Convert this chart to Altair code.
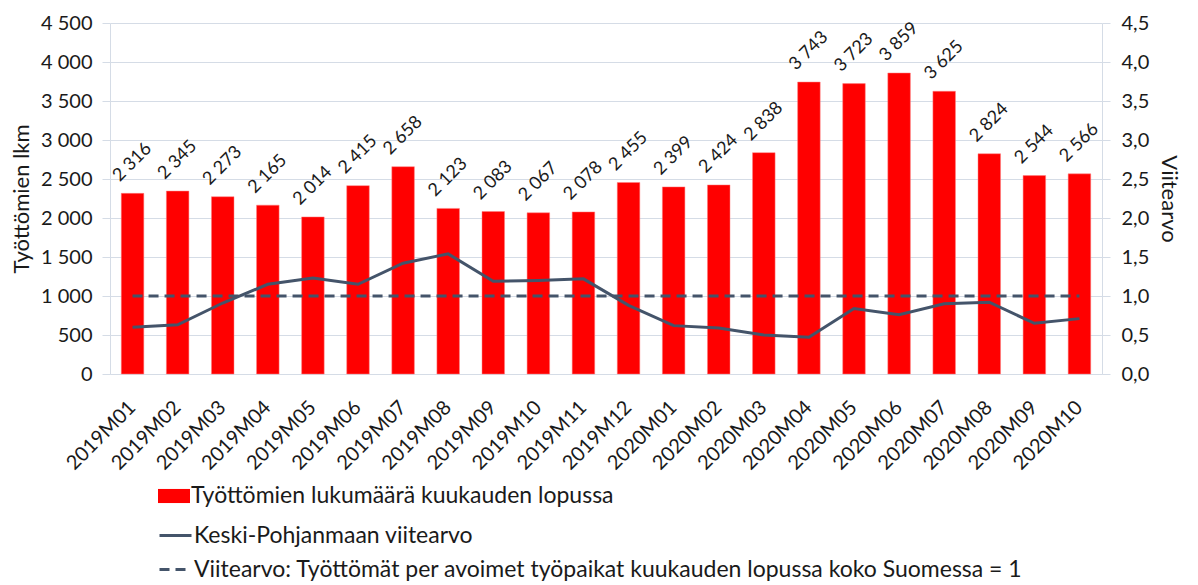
import altair as alt
import pandas as pd

months = ["2019M01", "2019M02", "2019M03", "2019M04", "2019M05", "2019M06",
          "2019M07", "2019M08", "2019M09", "2019M10", "2019M11", "2019M12",
          "2020M01", "2020M02", "2020M03", "2020M04", "2020M05", "2020M06",
          "2020M07", "2020M08", "2020M09", "2020M10"]
unemployed = [2316, 2345, 2273, 2165, 2014, 2415, 2658, 2123, 2083, 2067, 2078, 2455,
              2399, 2424, 2838, 3743, 3723, 3859, 3625, 2824, 2544, 2566]
viitearvo = [0.60, 0.63, 0.91, 1.15, 1.23, 1.15, 1.42, 1.54, 1.19, 1.20, 1.22, 0.88,
             0.62, 0.59, 0.50, 0.47, 0.84, 0.76, 0.90, 0.92, 0.65, 0.71]
reference_value = 1.0
left_ticks = [0, 500, 1000, 1500, 2000, 2500, 3000, 3500, 4000, 4500]
right_ticks = [0, 0.5, 1, 1.5, 2, 2.5, 3, 3.5, 4, 4.5]

lab_bar = "Työttömien lukumäärä kuukauden lopussa"
lab_line = "Keski-Pohjanmaan viitearvo"
lab_ref = "Viitearvo: Työttömät per avoimet työpaikat kuukauden lopussa koko Suomessa = 1"

df = pd.DataFrame({
    "month": months,
    "count": unemployed,
    "viite": viitearvo,
    "ref": [reference_value] * len(months),
    "s1": lab_bar,
    "s2": lab_line,
    "s3": lab_ref,
})

FONT = "Lato"
TXT = "#1a1a1a"
GRID = "#d5dce6"
RED = "#ff0000"
NAVY = "#44546a"

x_enc = alt.X("month:N", sort=months, title=None,
              scale=alt.Scale(paddingInner=0.5, paddingOuter=0.25),
              axis=alt.Axis(labelAngle=315, labelAlign="right", labelBaseline="middle",
                            labelPadding=30, ticks=False, domainColor=GRID,
                            labelFontSize=20, labelColor=TXT, labelFont=FONT,
                            labelOverlap=False))

left_axis = alt.Axis(values=left_ticks, title="Työttömien lkm",
                     labelExpr="replace(format(datum.value, ','), ',', ' ')",
                     grid=True, gridColor=GRID, tickColor=GRID, tickSize=8,
                     domainColor=GRID, labelPadding=10, titlePadding=7,
                     labelFontSize=20, titleFontSize=22, labelColor=TXT,
                     titleColor=TXT, titleFontWeight="normal",
                     labelFont=FONT, titleFont=FONT, labelOverlap=False)

right_axis = alt.Axis(orient="right", values=right_ticks,
                      title="Viitearvo",
                      labelExpr="replace(format(datum.value, '.1f'), '.', ',')",
                      grid=False, tickColor=GRID, tickSize=8, domainColor=GRID,
                      labelPadding=11, titlePadding=8, labelFontSize=20,
                      titleFontSize=22, labelColor=TXT, titleColor=TXT,
                      titleFontWeight="normal", labelFont=FONT, titleFont=FONT,
                      labelOverlap=False)

left_scale = alt.Scale(domain=[0, 4500], nice=False)
right_scale = alt.Scale(domain=[0, 4.5], nice=False)

rect_path = "M-1,-0.44L1,-0.44L1,0.44L-1,0.44Z"

def legend(y, **kw):
    return alt.Legend(orient="none", legendX=48, legendY=y, title=None,
                      symbolSize=1024, labelFontSize=23, labelColor=TXT,
                      labelFont=FONT, padding=0, labelOffset=1, labelLimit=0, **kw)

bars = alt.Chart(df).mark_bar(stroke="#ff8080", strokeWidth=0.5).encode(
    x=x_enc,
    y=alt.Y("count:Q", scale=left_scale, axis=left_axis),
    color=alt.Color("s1:N", scale=alt.Scale(domain=[lab_bar], range=[RED]),
                    legend=legend(457, symbolType=rect_path, symbolStrokeWidth=0)),
)

labels = alt.Chart(df).transform_calculate(
    lbl="replace(format(datum.count, ','), ',', ' ')"
).mark_text(angle=315, align="center", baseline="middle", yOffset=-31,
            fontSize=18, font=FONT, color=TXT).encode(
    x=x_enc,
    y=alt.Y("count:Q", scale=left_scale, axis=left_axis),
    text="lbl:N",
)

line = alt.Chart(df).mark_line(strokeWidth=3).encode(
    x=x_enc,
    y=alt.Y("viite:Q", scale=right_scale, axis=right_axis),
    stroke=alt.Stroke("s2:N", scale=alt.Scale(domain=[lab_line], range=[NAVY]),
                      legend=legend(495, symbolType="stroke", symbolStrokeWidth=3)),
)

dash = alt.Chart(df).mark_line(strokeWidth=3, stroke=NAVY).encode(
    x=x_enc,
    y=alt.Y("ref:Q", scale=right_scale, axis=right_axis),
    strokeDash=alt.StrokeDash("s3:N", scale=alt.Scale(domain=[lab_ref], range=[[10, 6]]),
                              legend=legend(529, symbolType="stroke", symbolStrokeWidth=3,
                                            symbolStrokeColor=NAVY)),
)

left_layer = alt.layer(bars, labels)
right_layer = alt.layer(dash, line)

chart = alt.layer(left_layer, right_layer).resolve_scale(
    y="independent", color="independent", stroke="independent", strokeDash="independent"
).properties(
    width=992, height=351, padding={"left": 2, "top": 5, "right": 4, "bottom": 0},
    background="white",
).configure_view(stroke=None)

chart.save("out.html", embed_options={"renderer": "svg", "actions": False})
